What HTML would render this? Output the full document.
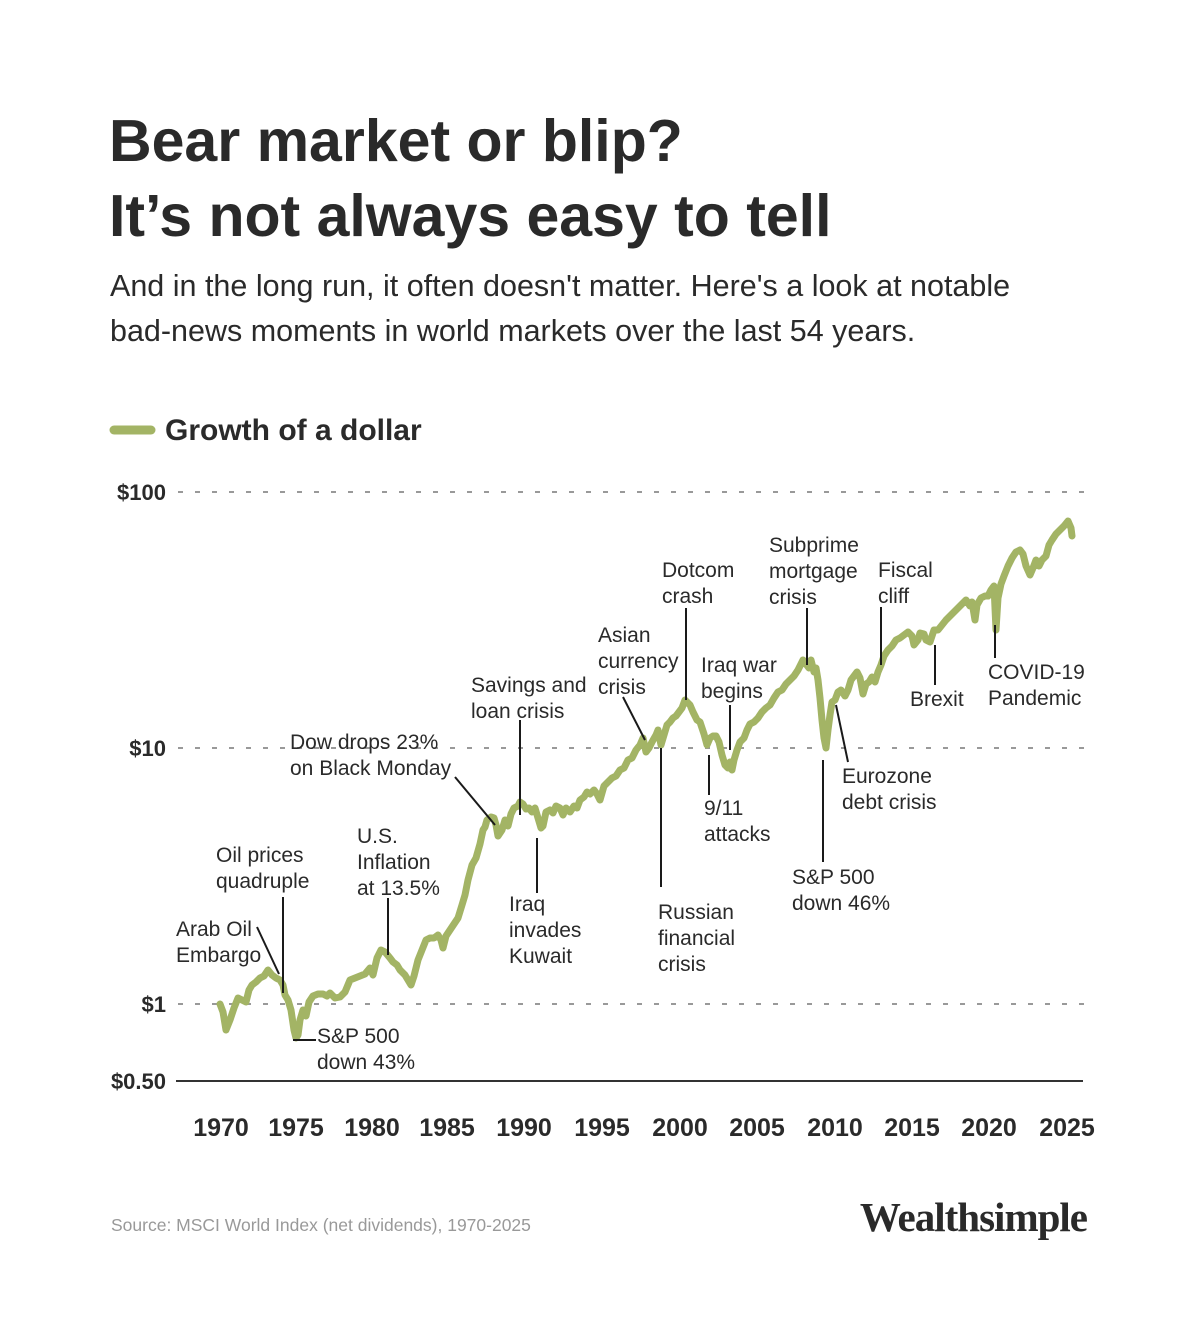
<!DOCTYPE html>
<html><head><meta charset="utf-8"><style>
html,body{margin:0;padding:0;background:#fff;}
svg{display:block;}
text{font-family:"Liberation Sans",sans-serif;fill:#2a2a2a;}
.a{font-size:21px;}
.t{font-size:59px;font-weight:bold;}
.s{font-size:30.5px;}
.y{font-size:22px;font-weight:bold;}
.x{font-size:25px;font-weight:bold;}
.l{stroke:#1a1a1a;stroke-width:2;fill:none;}
</style></head><body>
<svg width="1200" height="1337" viewBox="0 0 1200 1337" xmlns="http://www.w3.org/2000/svg">
<text class="t" x="109" y="161">Bear market or blip?</text>
<text class="t" x="109" y="236">It’s not always easy to tell</text>
<text class="s" x="110" y="296">And in the long run, it often doesn't matter. Here's a look at notable</text>
<text class="s" x="110" y="341">bad-news moments in world markets over the last 54 years.</text>
<line x1="114" y1="430" x2="151" y2="430" stroke="#a3b465" stroke-width="9" stroke-linecap="round"/>
<text x="165" y="440" style="font-size:30px;font-weight:bold">Growth of a dollar</text>

<g stroke="#999" stroke-width="2" stroke-dasharray="5,12">
<line x1="178" y1="492" x2="1084" y2="492"/>
<line x1="178" y1="748" x2="1084" y2="748"/>
<line x1="178" y1="1004" x2="1084" y2="1004"/>
</g>
<line x1="176" y1="1081" x2="1083" y2="1081" stroke="#333" stroke-width="2"/>
<g text-anchor="end">
<text class="y" x="166" y="500">$100</text>
<text class="y" x="166" y="756">$10</text>
<text class="y" x="166" y="1012">$1</text>
<text class="y" x="166" y="1089">$0.50</text>
</g>
<g text-anchor="middle">
<text class="x" x="221" y="1136">1970</text><text class="x" x="296" y="1136">1975</text>
<text class="x" x="372" y="1136">1980</text><text class="x" x="447" y="1136">1985</text>
<text class="x" x="524" y="1136">1990</text><text class="x" x="602" y="1136">1995</text>
<text class="x" x="680" y="1136">2000</text><text class="x" x="757" y="1136">2005</text>
<text class="x" x="835" y="1136">2010</text><text class="x" x="912" y="1136">2015</text>
<text class="x" x="989" y="1136">2020</text><text class="x" x="1067" y="1136">2025</text>
</g>

<polyline fill="none" stroke="#a3b465" stroke-width="7" stroke-linejoin="round" stroke-linecap="round" points="220,1004 223,1012 226,1030 230,1020 234,1008 238,998 242,1000 246,1002 249,990 252,985 256,982 260,978 264,976 268,970 272,975 276,978 280,980 283,985 285,995 288,1000 291,1010 294,1030 296,1038 298,1035 300,1020 303,1010 306,1016 309,1002 313,996 318,994 323,994 327,996 330,993 335,998 340,997 345,992 350,980 355,978 360,976 365,974 370,968 373,975 377,958 381,950 385,952 390,958 393,962 397,965 400,970 405,975 408,980 411,985 414,976 418,960 422,950 426,940 430,938 434,938 438,935 441,940 443,948 446,936 450,930 454,924 458,918 462,905 465,895 468,880 472,865 476,858 480,844 483,830 485,827 487,820 491,817 494,818 496,825 498,836 502,830 505,820 508,826 511,814 514,808 518,806 520,802 523,804 526,809 529,808 532,812 535,808 538,818 541,828 543,826 546,812 550,810 553,813 556,806 560,808 563,815 566,808 570,812 574,806 577,808 580,800 584,797 587,792 590,794 594,790 597,794 600,800 604,786 608,782 612,778 616,776 620,770 624,768 628,760 632,758 636,750 640,745 643,738 646,752 649,748 652,742 656,735 658,730 661,745 664,735 667,725 670,722 673,718 676,716 679,712 682,708 685,700 687,702 690,705 693,712 697,720 700,722 702,728 704,734 707,745 710,738 713,736 716,736 719,742 722,755 725,765 728,768 730,762 732,770 734,760 737,750 740,742 744,738 747,730 750,724 754,722 758,718 762,712 766,708 770,705 774,698 778,692 782,690 786,684 790,680 794,676 798,670 801,664 803,660 806,664 809,668 811,660 814,672 816,668 818,680 820,698 822,720 824,738 826,748 828,730 830,715 832,702 835,700 838,692 841,690 845,696 848,690 851,680 854,676 857,672 860,678 863,694 866,684 869,682 872,677 875,682 878,672 881,665 884,656 888,650 892,646 896,640 900,638 904,635 908,632 912,636 914,645 918,640 920,633 924,634 926,640 930,642 934,630 938,630 942,625 946,620 950,616 954,612 958,608 962,604 966,600 970,606 972,602 975,620 977,605 981,598 985,596 988,596 991,590 994,586 996,630 998,598 1001,584 1004,576 1008,566 1012,558 1016,552 1020,550 1023,554 1026,566 1030,575 1033,568 1036,560 1039,566 1042,560 1046,556 1049,545 1052,540 1056,534 1060,530 1064,526 1068,521 1071,528 1072,536"/>

<g class="l">
<line x1="257" y1="927" x2="279" y2="974"/>
<line x1="283" y1="897" x2="283" y2="993"/>
<line x1="293" y1="1040" x2="316" y2="1040"/>
<line x1="388" y1="898" x2="388" y2="955"/>
<line x1="455" y1="777" x2="495" y2="825"/>
<line x1="520" y1="720" x2="520" y2="815"/>
<line x1="537" y1="838" x2="537" y2="893"/>
<line x1="623" y1="697" x2="645" y2="740"/>
<line x1="661" y1="748" x2="661" y2="887"/>
<line x1="686" y1="608" x2="686" y2="700"/>
<line x1="730" y1="705" x2="730" y2="750"/>
<line x1="709" y1="755" x2="709" y2="795"/>
<line x1="807" y1="608" x2="807" y2="665"/>
<line x1="881" y1="607" x2="881" y2="665"/>
<line x1="935" y1="645" x2="935" y2="685"/>
<line x1="995" y1="625" x2="995" y2="658"/>
<line x1="823" y1="760" x2="823" y2="862"/>
<line x1="836" y1="705" x2="848" y2="762"/>
</g>
<g>
<text class="a" x="176" y="936">Arab Oil</text><text class="a" x="176" y="962">Embargo</text>
<text class="a" x="216" y="862">Oil prices</text><text class="a" x="216" y="888">quadruple</text>
<text class="a" x="317" y="1043">S&amp;P 500</text><text class="a" x="317" y="1069">down 43%</text>
<text class="a" x="357" y="843">U.S.</text><text class="a" x="357" y="869">Inflation</text><text class="a" x="357" y="895">at 13.5%</text>
<text class="a" x="290" y="749">Dow drops 23%</text><text class="a" x="290" y="775">on Black Monday</text>
<text class="a" x="471" y="692">Savings and</text><text class="a" x="471" y="718">loan crisis</text>
<text class="a" x="509" y="911">Iraq</text><text class="a" x="509" y="937">invades</text><text class="a" x="509" y="963">Kuwait</text>
<text class="a" x="598" y="642">Asian</text><text class="a" x="598" y="668">currency</text><text class="a" x="598" y="694">crisis</text>
<text class="a" x="658" y="919">Russian</text><text class="a" x="658" y="945">financial</text><text class="a" x="658" y="971">crisis</text>
<text class="a" x="662" y="577">Dotcom</text><text class="a" x="662" y="603">crash</text>
<text class="a" x="701" y="672">Iraq war</text><text class="a" x="701" y="698">begins</text>
<text class="a" x="704" y="815">9/11</text><text class="a" x="704" y="841">attacks</text>
<text class="a" x="769" y="552">Subprime</text><text class="a" x="769" y="578">mortgage</text><text class="a" x="769" y="604">crisis</text>
<text class="a" x="878" y="577">Fiscal</text><text class="a" x="878" y="603">cliff</text>
<text class="a" x="910" y="706">Brexit</text>
<text class="a" x="988" y="679">COVID-19</text><text class="a" x="988" y="705">Pandemic</text>
<text class="a" x="792" y="884">S&amp;P 500</text><text class="a" x="792" y="910">down 46%</text>
<text class="a" x="842" y="783">Eurozone</text><text class="a" x="842" y="809">debt crisis</text>
</g>
<text x="111" y="1231" style="font-size:17.5px;fill:#999">Source: MSCI World Index (net dividends), 1970-2025</text>
<text x="1087" y="1231" text-anchor="end" style="font-family:'Liberation Serif',serif;font-size:41px;font-weight:bold;letter-spacing:-1px;fill:#2a2a2a">Wealthsimple</text>
</svg>
</body></html>
